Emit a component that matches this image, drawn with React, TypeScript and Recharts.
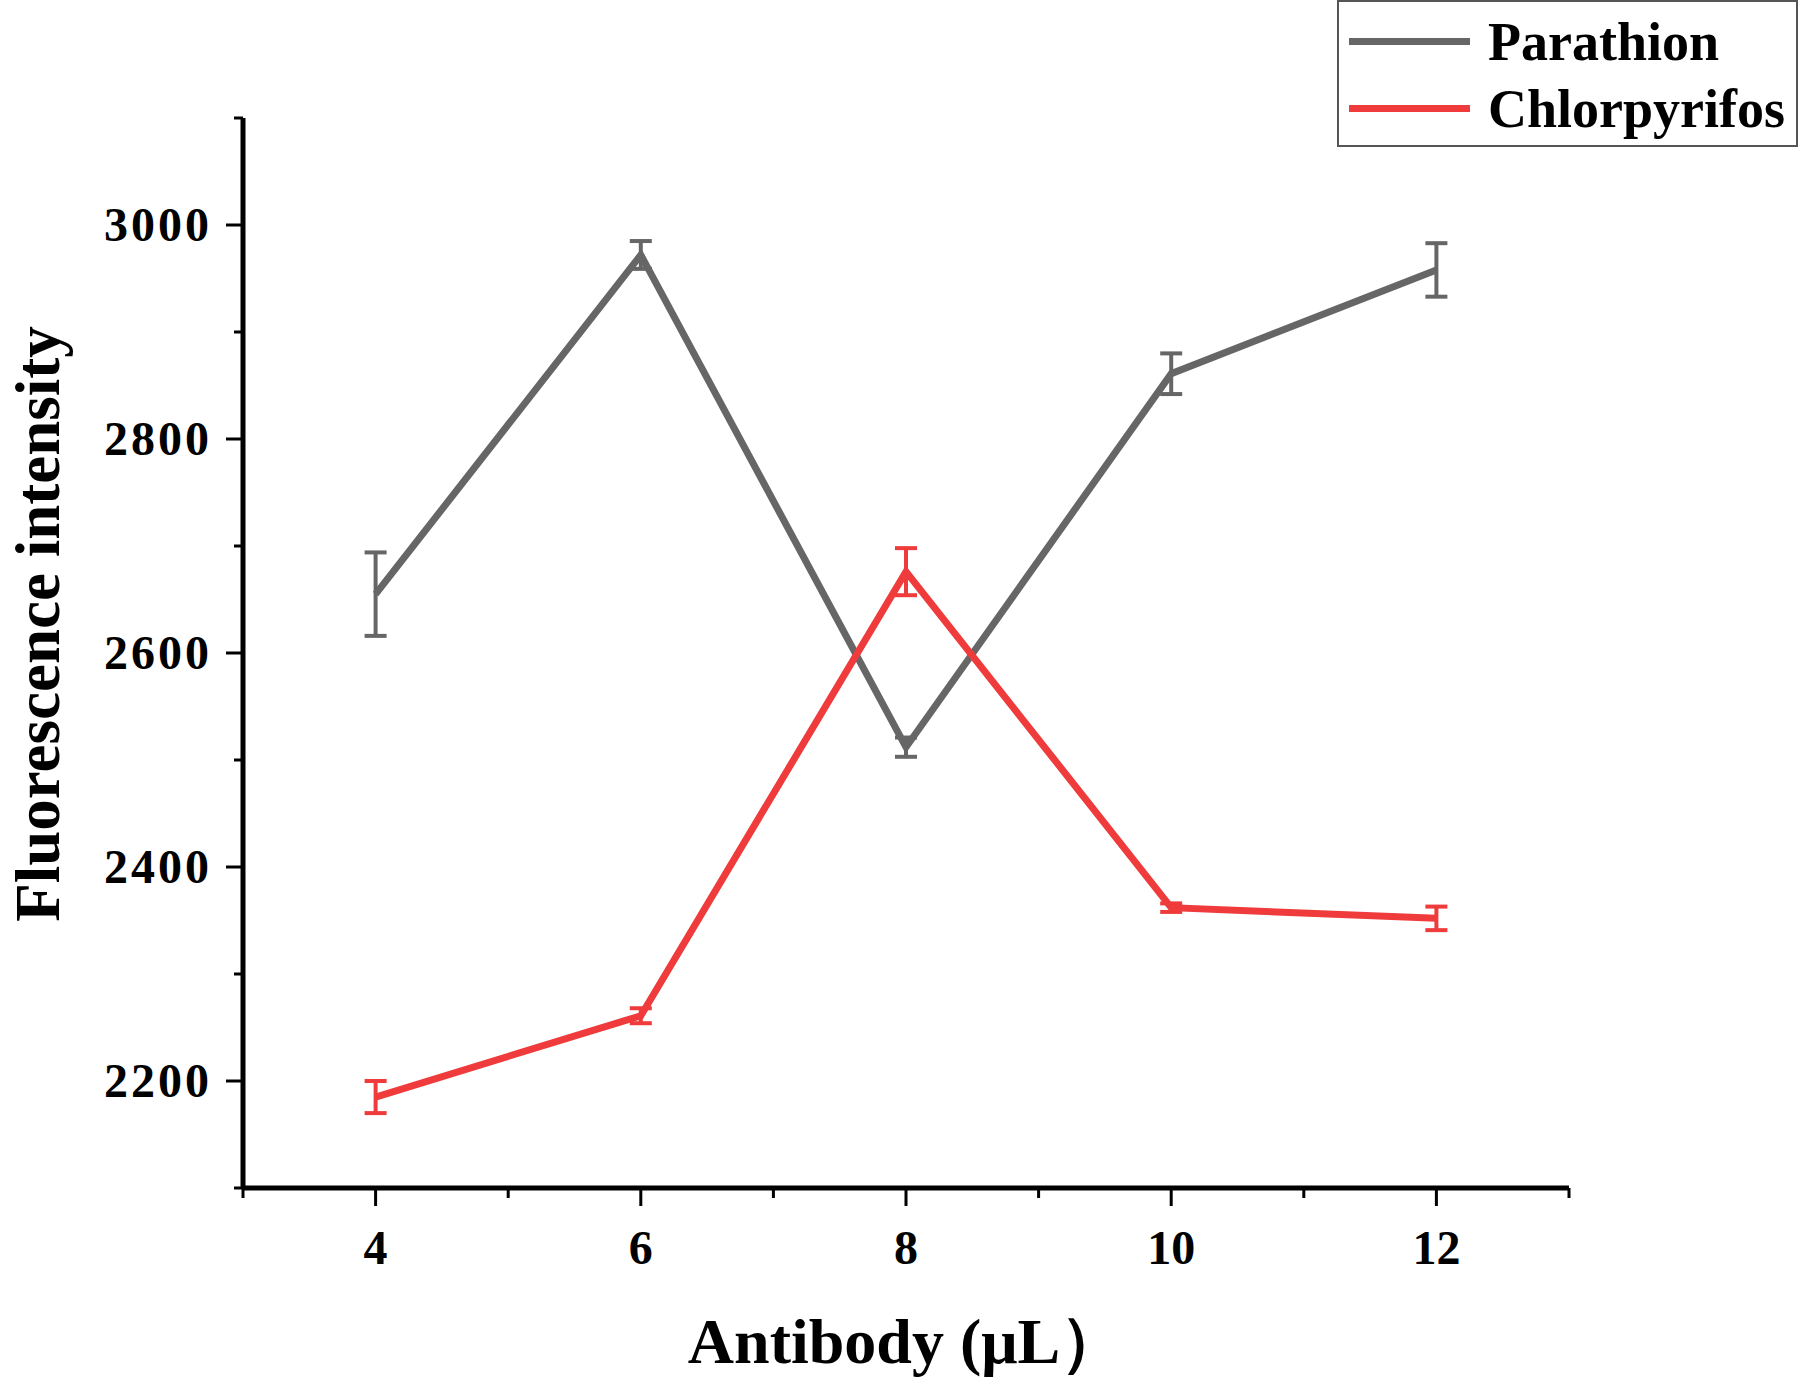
import { LineChart, Line, XAxis, YAxis, ErrorBar, Legend } from "recharts"

const antibody = [4, 6, 8, 10, 12]
const parathion = [2655, 2972, 2512, 2861, 2958]
const parathionErr = [39, 13, 9, 19, 25]
const chlorpyrifos = [2185, 2261, 2676, 2362, 2352]
const chlorpyrifosErr = [15, 7, 22, 4, 11]

const xTicks = [3, 4, 5, 6, 7, 8, 9, 10, 11, 12, 13]
const yTicks = [2100, 2200, 2300, 2400, 2500, 2600, 2700, 2800, 2900, 3000, 3100]
const xMajor = [4, 6, 8, 10, 12]
const yMajor = [2200, 2400, 2600, 2800, 3000]

const data = antibody.map((a, i) => ({
  antibody: a,
  parathion: parathion[i],
  pErr: parathionErr[i],
  chlorpyrifos: chlorpyrifos[i],
  cErr: chlorpyrifosErr[i],
}))

const GRAY = "#666666"
const RED = "#ef3b3b"
const FONT = "'Liberation Serif', 'Times New Roman', serif"

function XTick(props: any) {
  const { x, y, payload } = props
  const major = xMajor.includes(payload.value)
  return (
    <g>
      <line x1={x} x2={x} y1={y} y2={y + (major ? 18 : 10)} stroke="#000" strokeWidth={3} />
      {major && (
        <text x={x} y={y + 76} textAnchor="middle" fontFamily={FONT} fontWeight="bold" fontSize={48} fill="#000">
          {payload.value}
        </text>
      )}
    </g>
  )
}

function YTick(props: any) {
  const { x, y, payload } = props
  const major = yMajor.includes(payload.value)
  return (
    <g>
      <line x1={x - (major ? 17 : 9)} x2={x} y1={y} y2={y} stroke="#000" strokeWidth={3} />
      {major && (
        <text x={x - 31} y={y} dy="0.34em" textAnchor="end" fontFamily={FONT} fontWeight="bold" fontSize={48} letterSpacing={3} fill="#000">
          {payload.value}
        </text>
      )}
    </g>
  )
}

function LegendBox() {
  const items = [
    { name: "Parathion", color: GRAY },
    { name: "Chlorpyrifos", color: RED },
  ]
  return (
    <div style={{ width: 457, height: 143, border: "2px solid #555", background: "#fff", boxSizing: "content-box" }}>
      {items.map((it) => (
        <div key={it.name} style={{ display: "flex", alignItems: "center", height: 67, marginTop: it.name === "Parathion" ? 6 : 0 }}>
          <div style={{ width: 121, height: 7, background: it.color, marginLeft: 10, marginRight: 18 }} />
          <span style={{ fontFamily: FONT, fontWeight: "bold", fontSize: 54, color: "#000", lineHeight: 1 }}>{it.name}</span>
        </div>
      ))}
    </div>
  )
}

export default function App() {
  return (
    <div style={{ position: "absolute", left: 0, top: 0, width: 1800, height: 1377, background: "#fff" }}>
      <LineChart width={1800} height={1377} data={data} margin={{ top: 118, right: 231, bottom: 89, left: 143 }}>
        <XAxis
          dataKey="antibody"
          type="number"
          domain={[3, 13]}
          ticks={xTicks}
          interval={0}
          height={100}
          tickSize={0}
          tickMargin={0}
          tickLine={false}
          axisLine={{ stroke: "#000", strokeWidth: 5 }}
          tick={<XTick />}
          label={{
            content: () => (
              <text x={906} y={1363} textAnchor="middle" fontFamily={FONT} fontWeight="bold" fontSize={64} fill="#000">
                Antibody (μL）
              </text>
            ),
          }}
        />
        <YAxis
          type="number"
          domain={[2100, 3100]}
          ticks={yTicks}
          interval={0}
          width={100}
          tickSize={0}
          tickMargin={0}
          tickLine={false}
          axisLine={{ stroke: "#000", strokeWidth: 5 }}
          tick={<YTick />}
          label={{
            content: () => (
              <text x={59} y={624} transform="rotate(-90 59 624)" textAnchor="middle" fontFamily={FONT} fontWeight="bold" fontSize={63} fill="#000">
                Fluorescence intensity
              </text>
            ),
          }}
        />
        <Legend
          layout="vertical"
          align="center"
          verticalAlign="middle"
          content={() => <LegendBox />}
          wrapperStyle={{ left: 1337, top: 0, width: 461, height: 147 }}
        />
        <Line type="linear" dataKey="parathion" name="Parathion" stroke={GRAY} strokeWidth={7} dot={false} isAnimationActive={false}>
          <ErrorBar dataKey="pErr" direction="y" width={11} stroke={GRAY} strokeWidth={4} />
        </Line>
        <Line type="linear" dataKey="chlorpyrifos" name="Chlorpyrifos" stroke={RED} strokeWidth={7} dot={false} isAnimationActive={false}>
          <ErrorBar dataKey="cErr" direction="y" width={11} stroke={RED} strokeWidth={4} />
        </Line>
      </LineChart>
    </div>
  )
}
